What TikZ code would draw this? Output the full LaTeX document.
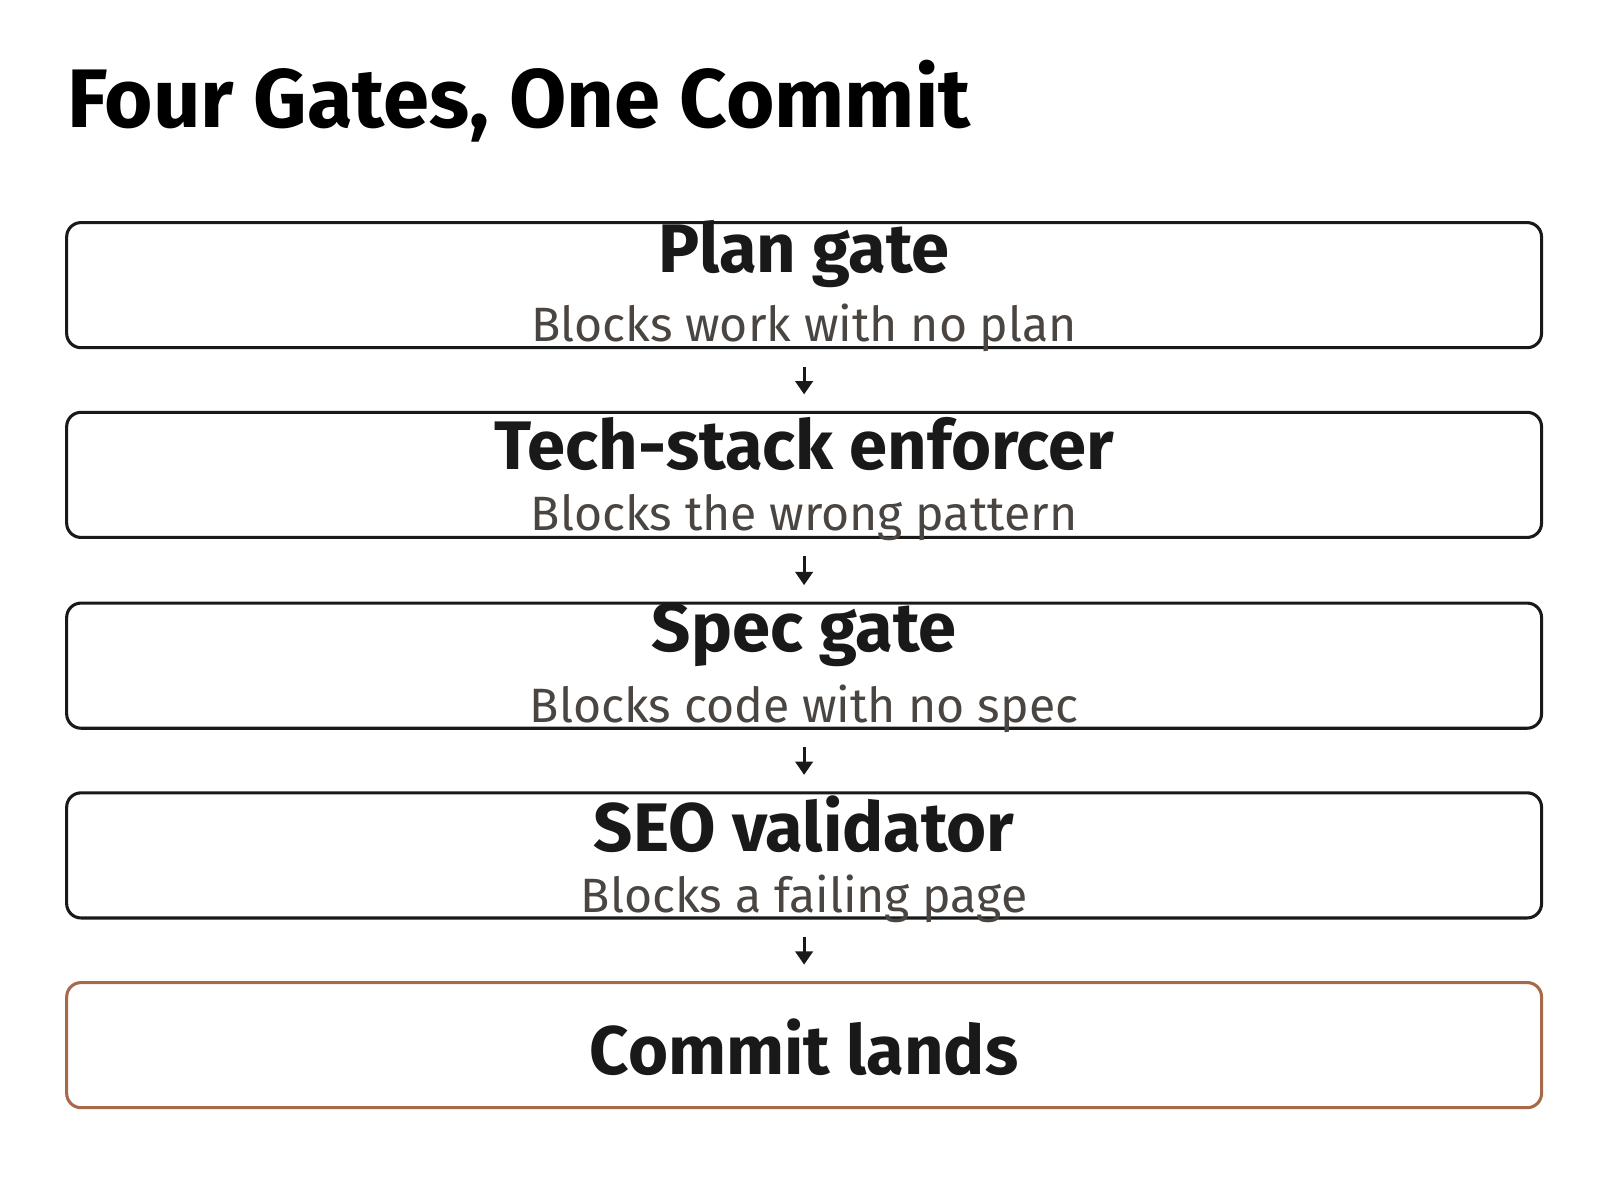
\documentclass[tikz,border=0pt]{standalone}
\usepackage{fontspec}
\setmainfont{Fira Sans}
\usetikzlibrary{positioning,arrows.meta}
\definecolor{subgray}{HTML}{4A4540}
\definecolor{rust}{HTML}{A8694A}
\tikzset{
  gate/.style={draw=black!90,line width=3pt,rounded corners=14pt,minimum width=1438pt,minimum height=122pt,inner sep=0pt},
  head/.style={font=\fontsize{67}{72}\selectfont\bfseries,text=black!90},
  sub/.style={font=\fontsize{47}{52}\selectfont,text=subgray},
  flow/.style={-{Triangle[length=13pt,width=17pt]},line width=3pt,draw=black!90,shorten <=17pt,shorten >=16pt}
}
\begin{document}
\begin{tikzpicture}[x=1pt,y=-1pt]
\useasboundingbox (0,0) rectangle (1560,1170);
\node[anchor=base west,font=\fontsize{81}{88}\selectfont\bfseries] (title) at (62,124) {Four Gates, One Commit};
% gates
\node[gate] (plan) at (784,278) {};
\node[gate] (tech) at (784,463) {};
\node[gate] (spec) at (784,649) {};
\node[gate] (seo) at (784,834) {};
\node[gate,draw=rust] (commit) at (784,1019) {};
\node[head] (planh) at (784,248) {Plan gate};
\node[sub] (plans) at (784,320) {Blocks work with no plan};
\node[head] (techh) at (784,433) {Tech-stack enforcer};
\node[sub] (techs) at (784,505) {Blocks the wrong pattern};
\node[head] (spech) at (784,619) {Spec gate};
\node[sub] (specs) at (784,691) {Blocks code with no spec};
\node[head] (seoh) at (784,804) {SEO validator};
\node[sub] (seos) at (784,876) {Blocks a failing page};
\node[head] (commith) at (784,1021) {Commit lands};
% arrows
\draw[flow] (plan.south) -- (tech.north);
\draw[flow] (tech.south) -- (spec.north);
\draw[flow] (spec.south) -- (seo.north);
\draw[flow] (seo.south) -- (commit.north);
\end{tikzpicture}
\end{document}
